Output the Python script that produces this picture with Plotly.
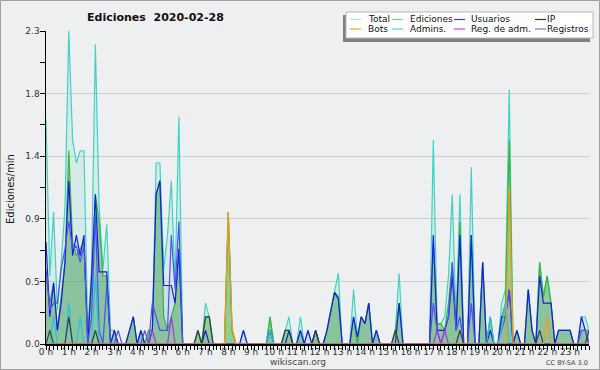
import plotly.graph_objects as go

# 10-minute buckets (144 per day), values in edits per minute
slots = list(range(144))
hour_labels = [f"{h} h" for h in range(24)]

total = [
    1.65, 0.5, 0.97, 0.25, 0.6, 1.0,   2.3, 1.5, 1.33, 1.42, 1.42, 0.1,   0.55, 2.2, 1.0, 0.55, 0.88, 0.1,   0.1, 0, 0, 0, 0.1, 0.2,
    0, 0.1, 0, 0.1, 0.1, 1.33,   1.33, 0.55, 0.8, 1.2, 0.45, 1.67,   0, 0, 0, 0, 0.1, 0,   0.3, 0.2, 0, 0, 0, 0,
    0.97, 0.1, 0, 0, 0.1, 0,   0, 0, 0, 0, 0, 0.2,   0, 0, 0, 0.1, 0.2, 0,   0, 0.2, 0, 0.1, 0, 0.1,
    0, 0, 0.1, 0.25, 0.38, 0.52,   0, 0, 0, 0.4, 0.05, 0.2,   0.15, 0.3, 0, 0.1, 0, 0,   0, 0, 0.1, 0.52, 0, 0,
    0, 0, 0, 0, 0, 0,   1.5, 0.15, 0.15, 0.2, 0.5, 1.1,   0.15, 1.1, 0, 0, 1.3, 0,   0, 0.6, 0, 0.2, 0, 0,
    0.3, 0.4, 1.87, 0, 0.1, 0,   0, 0.4, 0.1, 0, 0.6, 0.35,   0.5, 0.3, 0, 0.1, 0.1, 0.1,   0.1, 0, 0, 0.2, 0.2, 0.1,
]
ediciones = [
    0.5, 0.3, 0.45, 0.1, 0.35, 0.6,   1.42, 0.75, 0.65, 0.7, 0.75, 0.05,   0.4, 1.1, 0.9, 0.5, 0.5, 0,   0.1, 0, 0, 0, 0.1, 0.2,
    0, 0.1, 0, 0.1, 0.1, 1.1,   1.2, 0.2, 0.1, 0.2, 0.3, 0.7,   0, 0, 0, 0, 0.1, 0,   0.2, 0.2, 0, 0, 0, 0,
    0.97, 0.1, 0, 0, 0, 0,   0, 0, 0, 0, 0, 0.2,   0, 0, 0, 0.1, 0.1, 0,   0, 0.1, 0, 0, 0, 0.1,
    0, 0, 0.1, 0.25, 0.38, 0.35,   0, 0, 0, 0.2, 0, 0.2,   0.15, 0.3, 0, 0.1, 0, 0,   0, 0, 0.1, 0.3, 0, 0,
    0, 0, 0, 0, 0, 0,   0.75, 0.15, 0.15, 0.1, 0.3, 0.6,   0.15, 0.9, 0, 0, 0.8, 0,   0, 0.6, 0, 0.2, 0, 0,
    0.2, 0.3, 1.5, 0, 0.1, 0,   0, 0.4, 0.1, 0, 0.6, 0.35,   0.5, 0.3, 0, 0.1, 0.1, 0.1,   0.1, 0, 0, 0.1, 0.1, 0.1,
]
usuarios = [
    0.75, 0.2, 0.45, 0.1, 0.3, 0.6,   1.2, 0.65, 0.8, 0.65, 0.8, 0,   0.5, 1.1, 0.53, 0.53, 0.53, 0,   0.1, 0, 0, 0, 0.1, 0.2,
    0, 0.1, 0, 0, 0.1, 1.1,   1.2, 0.43, 0.43, 0.43, 0.3, 0.7,   0, 0, 0, 0, 0, 0,   0.1, 0, 0, 0, 0, 0,
    0, 0, 0, 0, 0.1, 0,   0, 0, 0, 0, 0, 0.1,   0, 0, 0, 0, 0.1, 0,   0, 0.1, 0, 0.1, 0, 0.1,
    0, 0, 0.1, 0.25, 0.38, 0.33,   0, 0, 0, 0.2, 0.05, 0.2,   0.15, 0.3, 0, 0.1, 0, 0,   0, 0, 0, 0.3, 0, 0,
    0, 0, 0, 0, 0, 0,   0.8, 0.1, 0.1, 0.1, 0.2, 0.5,   0.1, 0.8, 0, 0, 0.8, 0,   0, 0.6, 0, 0.1, 0, 0,
    0.2, 0.2, 0.4, 0, 0.1, 0,   0, 0.4, 0.1, 0, 0.5, 0.3,   0.3, 0.3, 0, 0.1, 0.1, 0.1,   0.1, 0, 0, 0.2, 0.1, 0,
]
ip = [
    0, 0.1, 0, 0, 0, 0,   0.2, 0, 0, 0, 0, 0,   0, 0.1, 0, 0, 0, 0,   0, 0, 0, 0, 0, 0,
    0, 0, 0, 0, 0, 0,   0, 0, 0, 0, 0, 0,   0, 0, 0, 0, 0.1, 0,   0.2, 0.2, 0, 0, 0, 0,
    0, 0, 0, 0, 0, 0,   0, 0, 0, 0, 0, 0,   0, 0, 0, 0.1, 0.1, 0,   0, 0, 0, 0, 0, 0.1,
    0, 0, 0, 0, 0, 0,   0, 0, 0, 0, 0, 0,   0, 0, 0, 0, 0, 0,   0, 0, 0.1, 0, 0, 0,
    0, 0, 0, 0, 0, 0,   0, 0, 0, 0, 0, 0,   0, 0.1, 0, 0, 0, 0,   0, 0, 0, 0, 0, 0,
    0, 0, 0, 0, 0, 0,   0, 0, 0, 0, 0.1, 0,   0, 0, 0, 0, 0, 0,   0, 0, 0, 0, 0, 0.1,
]
bots = [0] * 48 + [0.97, 0.12] + [0] * 72 + [1.15] + [0] * 9 + [0.2] + [0] * 11
admins = [
    0, 0, 0.2, 0, 0, 0,   0.3, 0, 0, 0.2, 0, 0,   0, 0.5, 0, 0, 0, 0,   0, 0, 0, 0, 0, 0,
    0, 0, 0, 0, 0, 0,   0, 0, 0, 0, 0, 0,   0, 0, 0, 0, 0, 0,   0, 0, 0, 0, 0, 0,
    0, 0, 0, 0, 0, 0,   0, 0, 0, 0, 0, 0.1,   0, 0, 0, 0, 0, 0,   0, 0, 0, 0, 0, 0,
    0, 0, 0, 0, 0, 0,   0, 0, 0, 0, 0, 0,   0, 0, 0, 0, 0, 0,   0, 0, 0, 0, 0, 0,
    0, 0, 0, 0, 0, 0,   0, 0, 0, 0, 0, 0,   0, 0, 0, 0, 0, 0,   0, 0, 0, 0.2, 0, 0,
    0.1, 0.3, 0, 0, 0, 0,   0, 0, 0, 0, 0, 0,   0, 0, 0, 0, 0, 0,   0, 0, 0, 0, 0, 0,
]
reg_adm = [0] * 28 + [0.1, 0, 0, 0, 0, 0.2] + [0] * 69 + [0.1, 0, 0.1] + [0] * 38
registros = [
    0.55, 0.25, 0.3, 0.3, 0.55, 0.7,   0.9, 0.7, 0.72, 0.6, 0.72, 0,   0.2, 0.95, 0.1, 0, 0.43, 0,   0, 0.1, 0, 0, 0, 0,
    0, 0, 0.1, 0, 0.3, 0.2,   0.1, 0.1, 0.1, 0.8, 0.4, 0.9,   0, 0, 0, 0, 0, 0,   0, 0, 0, 0, 0, 0,
    0, 0, 0, 0, 0, 0,   0, 0, 0, 0, 0, 0,   0, 0, 0, 0, 0, 0,   0, 0, 0, 0, 0, 0,
    0, 0, 0, 0, 0, 0,   0, 0, 0, 0, 0, 0,   0, 0, 0, 0, 0, 0,   0, 0, 0, 0, 0, 0,
    0, 0, 0, 0, 0, 0,   0.3, 0.1, 0, 0.1, 0.2, 0.6,   0.1, 0.2, 0, 0, 0.3, 0,   0, 0, 0, 0, 0, 0,
    0.1, 0.2, 0.4, 0, 0, 0,   0, 0, 0, 0, 0, 0,   0, 0, 0, 0, 0, 0,   0, 0, 0, 0.1, 0.1, 0,
]

legend_names = ["Total", "Ediciones", "Usuarios", "IP", "Bots", "Admins.", "Reg. de adm.", "Registros"]
legend_colors = ["#a8e8e0", "#88d088", "#3a3ae0", "#333333", "#f0a030", "#50d0e0", "#d040e0", "#7070f0"]

FONT = "DejaVu Sans"
L, R, T, B = 46, 11, 31, 26
W, H = 600, 370
PW, PH = W - L - R, H - T - B


def px(x):
    return (x - L) / PW


def py(y):
    return (H - B - y) / PH


fig = go.Figure()
series = [
    (total, "Total", "#3fd3c6", "tozeroy", "rgba(70,210,180,0.14)"),
    (ediciones, "Ediciones", "#3cb43c", "tozeroy", "rgba(50,165,40,0.42)"),
    (usuarios, "Usuarios", "#1a1ae6", "tozeroy", "rgba(60,90,220,0.07)"),
    (registros, "Registros", "#4f4ff2", None, None),
    (admins, "Admins.", "#2fc0e0", None, None),
    (ip, "IP", "#3a3a3a", None, None),
    (reg_adm, "Reg. de adm.", "#b030e0", None, None),
    (bots, "Bots", "#f29a1a", None, None),
]
for ys, name, color, fill, fc in series:
    kw = dict(x=slots, y=ys, name=name, mode="lines", line=dict(color=color, width=1.2),
              showlegend=False, hoverinfo="skip")
    if fill:
        kw.update(fill=fill, fillcolor=fc)
    fig.add_trace(go.Scatter(**kw))

ymax = 2.3
ymajor = [ymax * k / 5 for k in range(6)]
yminor = [ymax * (2 * k + 1) / 10 for k in range(5)]

fig.update_xaxes(range=[0, 143], tickvals=list(range(0, 144, 6)), ticktext=hour_labels,
                 ticks="outside", ticklen=4, tickcolor="black", showline=True, linecolor="black",
                 linewidth=1.5, showgrid=False, zeroline=False, automargin=False,
                 ticklabelstandoff=-5,
                 tickfont=dict(family=FONT, size=9, color="#333"),
                 minor=dict(dtick=1, tick0=0, ticks="outside", ticklen=4, tickcolor="black", showgrid=False))
fig.update_yaxes(range=[0, ymax], tickvals=ymajor, ticktext=[f"{v:.1f}" for v in ymajor],
                 ticks="outside", ticklen=5, tickcolor="black", showline=True, linecolor="black",
                 linewidth=1.5, showgrid=True, gridcolor="#cdcdcd", gridwidth=1, zeroline=False,
                 automargin=False, ticklabelstandoff=-2,
                 tickfont=dict(family=FONT, size=9, color="#333"),
                 minor=dict(tickvals=yminor, ticks="outside", ticklen=5, tickcolor="black", showgrid=False))

shapes = [
    # outer frame
    dict(type="rect", xref="paper", yref="paper", x0=px(0.5), x1=px(599.5), y0=py(369.5), y1=py(0.5),
         line=dict(color="#a0a0a0", width=1), layer="below"),
    # legend shadow + box
    dict(type="rect", xref="paper", yref="paper", x0=px(343), x1=px(590), y0=py(42), y1=py(15),
         fillcolor="#808080", line=dict(width=0)),
    dict(type="rect", xref="paper", yref="paper", x0=px(346), x1=px(593), y0=py(38), y1=py(12),
         fillcolor="white", line=dict(color="#b8b8b8", width=1)),
]
annotations = [
    dict(text="<b>Ediciones  2020-02-28</b>", xref="paper", yref="paper", x=px(85), y=py(17),
         xanchor="left", yanchor="middle", showarrow=False, font=dict(family=FONT, size=11, color="#111")),
    dict(text="Ediciones/min", xref="paper", yref="paper", x=px(10), y=py(189), textangle=-90,
         xanchor="center", yanchor="middle", showarrow=False, font=dict(family=FONT, size=10, color="#111")),
    dict(text="wikiscan.org", xref="paper", yref="paper", x=px(298), y=py(362),
         xanchor="center", yanchor="middle", showarrow=False, font=dict(family=FONT, size=9, color="#444")),
    dict(text="CC BY-SA 3.0", xref="paper", yref="paper", x=px(590), y=py(363), xanchor="right",
         yanchor="middle", showarrow=False, font=dict(family=FONT, size=6.5, color="#444")),
]
col_line = [350, 392, 454, 535]
col_text = [366, 408, 469, 545]
rows = [19.5, 29]
for k, (name, color) in enumerate(zip(legend_names, legend_colors)):
    r, c = divmod(k, 4)
    yy = rows[r]
    shapes.append(dict(type="line", xref="paper", yref="paper", x0=px(col_line[c]),
                       x1=px(col_line[c] + 11), y0=py(yy), y1=py(yy), line=dict(color=color, width=1.2)))
    annotations.append(dict(text=name, xref="paper", yref="paper", x=px(col_text[c]), y=py(yy),
                            xanchor="left", yanchor="middle", showarrow=False,
                            font=dict(family=FONT, size=9, color="#111")))

fig.update_layout(width=W, height=H, margin=dict(l=L, r=R, t=T, b=B, pad=0, autoexpand=False),
                  paper_bgcolor="#eeeff0", plot_bgcolor="#eeeff0",
                  shapes=shapes, annotations=annotations, showlegend=False)
fig.write_html("out.html", config={"displayModeBar": False, "staticPlot": True},
               post_script="document.body.style.margin='0px';document.body.style.padding='0px';"
                           "document.body.style.overflow='hidden';")
